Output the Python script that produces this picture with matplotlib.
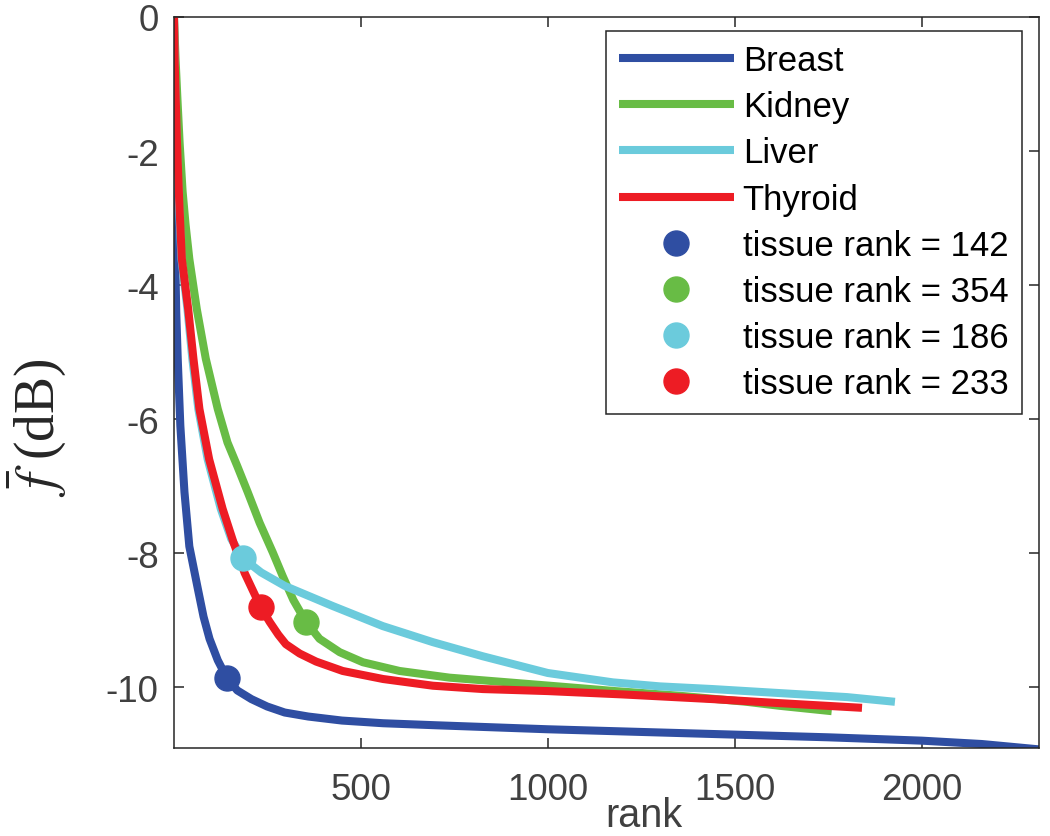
import matplotlib
matplotlib.use('Agg')
import matplotlib.pyplot as plt

plt.rcParams['font.family'] = ['Liberation Sans', 'DejaVu Sans']
plt.rcParams['axes.unicode_minus'] = False
plt.rcParams['mathtext.fontset'] = 'stix'

# ---- data ----
TISSUES = ['Breast', 'Kidney', 'Liver', 'Thyroid']
COLORS  = ['#2f4ea2', '#68bc45', '#6bcbdc', '#ed1c24']

breast_rank = [1, 2, 4, 7, 11, 18, 29, 42, 65, 80, 96, 118, 142, 170, 208, 250, 297,
               360, 450, 560, 700, 850, 1000, 1250, 1500, 1750, 2000, 2160, 2313]
breast_f    = [0, -1.8, -3.5, -4.4, -5.1, -6.1, -7.09, -7.9, -8.54, -8.95, -9.28, -9.6,
               -9.86, -10.05, -10.18, -10.29, -10.38, -10.44, -10.5, -10.54, -10.57,
               -10.6, -10.63, -10.67, -10.71, -10.75, -10.8, -10.85, -10.93]

kidney_rank = [1, 5, 10, 16, 24, 32, 42, 62, 86, 118, 144, 170, 198, 230, 265, 292,
               320, 354, 390, 444, 506, 604, 738, 872, 1005, 1180, 1353, 1531, 1620, 1759]
kidney_f    = [0, -0.6, -1.2, -1.87, -2.6, -3.1, -3.61, -4.36, -5.1, -5.85, -6.35, -6.7,
               -7.09, -7.55, -7.99, -8.35, -8.7, -9.03, -9.28, -9.48, -9.63, -9.76, -9.86,
               -9.92, -9.98, -10.06, -10.13, -10.22, -10.28, -10.36]

liver_rank = [1, 3, 8, 14, 21, 37, 50, 66, 91, 126, 154, 186, 234, 297, 425, 559, 693,
              826, 1000, 1174, 1300, 1441, 1620, 1800, 1928]
liver_f    = [0, -0.72, -1.87, -2.75, -3.61, -4.36, -5.1, -5.85, -6.6, -7.34, -7.79,
              -8.08, -8.29, -8.49, -8.79, -9.09, -9.33, -9.54, -9.79, -9.93, -9.99,
              -10.03, -10.09, -10.15, -10.22]

thyroid_rank = [1, 3, 9, 15, 22, 39, 53, 69, 95, 131, 160, 190, 233, 257, 280, 300,
                337, 381, 452, 560, 693, 827, 1000, 1200, 1441, 1620, 1840]
thyroid_f    = [0, -0.7, -1.87, -2.75, -3.61, -4.36, -5.1, -5.85, -6.6, -7.34, -7.84,
                -8.3, -8.81, -9.03, -9.22, -9.36, -9.5, -9.62, -9.76, -9.88, -9.98,
                -10.03, -10.06, -10.11, -10.18, -10.24, -10.31]

tissue_rank = [142, 354, 186, 233]
tissue_f    = [-9.86, -9.03, -8.08, -8.81]

curves = [(breast_rank, breast_f), (kidney_rank, kidney_f),
          (liver_rank, liver_f), (thyroid_rank, thyroid_f)]

fig = plt.figure(figsize=(10.5, 8.37), dpi=100)
ax = fig.add_axes([0.1657, 0.1051, 0.8238, 0.8734])

for (r, f), name, c in zip(curves, TISSUES, COLORS):
    ax.plot(r, f, color=c, lw=5.8, label=name, solid_capstyle='butt',
            solid_joinstyle='round', zorder=2)
for r, f, c in zip(tissue_rank, tissue_f, COLORS):
    ax.plot([r], [f], 'o', color=c, ms=18, mec=c, label=f'tissue rank = {r}', zorder=3)

ax.set_xlim(1, 2313)
ax.set_ylim(-10.91, 0)
ax.set_xticks([500, 1000, 1500, 2000])
ax.set_yticks([0, -2, -4, -6, -8, -10])

for sp in ax.spines.values():
    sp.set_color('#262626')
    sp.set_linewidth(1.1)
ax.tick_params(direction='in', length=7, width=1.1, color='#262626',
               top=True, right=True, labelsize=26.5, labelcolor='#404040')
ax.tick_params(axis='x', pad=17)
ax.tick_params(axis='y', pad=11)

ax.text(0.543, -0.107, 'rank', transform=ax.transAxes, ha='center', va='baseline',
        fontsize=28.5, color='#404040')
ax.text(-0.158, 0.44, r'$\bar{f}$ (dB)', transform=ax.transAxes, rotation=90,
        ha='center', va='center', fontsize=40, color='#262626',
        family=['Liberation Serif', 'DejaVu Serif'])

leg = ax.legend(loc='upper right', bbox_to_anchor=(0.98, 0.981), borderaxespad=0,
                fontsize=25, handlelength=3.3, handletextpad=0.26, labelspacing=0.38,
                borderpad=0.38, fancybox=False, framealpha=1, edgecolor='#262626')
leg.get_frame().set_linewidth(1.1)

fig.savefig('out.png', dpi=100)
